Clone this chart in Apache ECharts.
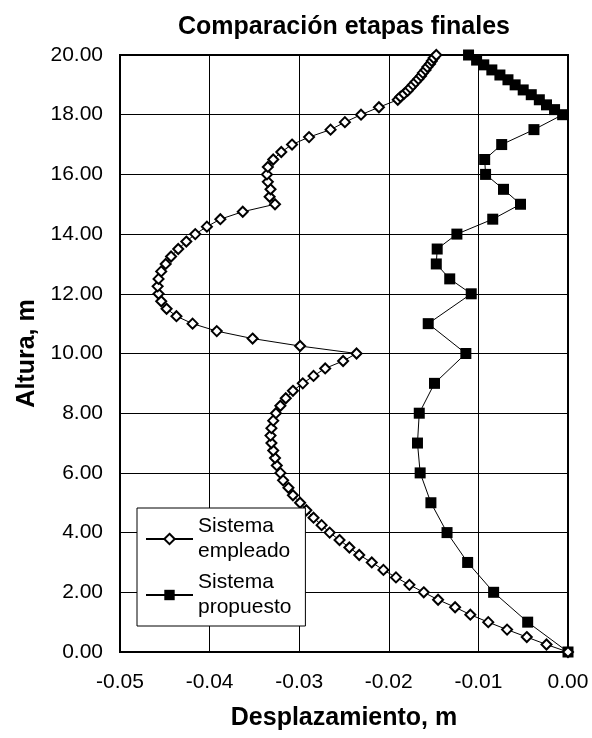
<!DOCTYPE html>
<html>
<head>
<meta charset="utf-8">
<title>Comparación etapas finales</title>
<script src="https://cdn.jsdelivr.net/npm/echarts@6/dist/echarts.min.js"></script>
<style>
  html, body { margin: 0; padding: 0; background: #fff; }
  #chart { width: 592px; height: 738px; }
</style>
</head>
<body>
<div id="chart"></div>
<script>
// Sistema empleado: altura (m) / desplazamiento (m)
var empleadoAltura = [0, 0.25, 0.5, 0.75, 1, 1.25, 1.5, 1.75, 2, 2.25, 2.5, 2.75, 3, 3.25, 3.5, 3.75,
  4, 4.25, 4.5, 4.75, 5, 5.25, 5.5, 5.75, 6, 6.25, 6.5, 6.75, 7, 7.25, 7.5, 7.75,
  8, 8.25, 8.5, 8.75, 9, 9.25, 9.5, 9.75, 10, 10.25, 10.5, 10.75, 11, 11.25, 11.5, 11.75,
  12, 12.25, 12.5, 12.75, 13, 13.25, 13.5, 13.75, 14, 14.25, 14.5, 14.75, 15, 15.25, 15.5, 15.75,
  16, 16.25, 16.5, 16.75, 17, 17.25, 17.5, 17.75, 18, 18.25, 18.5, 18.6, 18.7, 18.8, 18.9,
  19, 19.1, 19.2, 19.3, 19.4, 19.5, 19.6, 19.7, 19.8, 19.9, 20];
var empleadoDespl = [0, -0.0024, -0.0046, -0.0068, -0.0089, -0.0109, -0.0126, -0.0145, -0.0161, -0.0177, -0.0192, -0.0206, -0.0219, -0.0233, -0.0244, -0.0255,
  -0.0266, -0.0275, -0.0284, -0.0292, -0.0299, -0.0307, -0.0312, -0.0318, -0.0321, -0.0325, -0.0327, -0.0329, -0.0331, -0.0332, -0.0331, -0.0329,
  -0.0326, -0.0321, -0.0315, -0.0307, -0.0296, -0.0284, -0.0271, -0.0251, -0.0236, -0.0299, -0.0352, -0.0392, -0.0419, -0.0437, -0.0448, -0.0454,
  -0.0457, -0.0458, -0.0457, -0.0454, -0.0449, -0.0443, -0.0435, -0.0426, -0.0416, -0.0403, -0.0388, -0.0363, -0.0327, -0.0333, -0.0332, -0.0335,
  -0.0336, -0.0335, -0.0329, -0.0320, -0.0308, -0.0289, -0.0265, -0.0249, -0.0231, -0.0211, -0.0190, -0.0187, -0.0183, -0.0179, -0.0176,
  -0.0173, -0.0170, -0.0167, -0.0164, -0.0162, -0.0159, -0.0157, -0.0154, -0.0152, -0.0150, -0.0147];

// Sistema propuesto
var propuestoAltura = [0, 1, 2, 3, 4, 5, 6, 7, 8, 9, 10, 11, 12, 12.5, 13, 13.5, 14, 14.5, 15, 15.5, 16, 16.5, 17, 17.5,
  18, 18.17, 18.33, 18.5, 18.67, 18.83, 19, 19.17, 19.33, 19.5, 19.67, 19.83, 20];
var propuestoDespl = [0, -0.0045, -0.0083, -0.0112, -0.0135, -0.0153, -0.0165, -0.0168, -0.0166, -0.0149, -0.0114, -0.0156, -0.0108, -0.0132, -0.0147, -0.0146, -0.0124, -0.0084, -0.0053, -0.0072, -0.0092, -0.0093, -0.0074, -0.0038,
  -0.0006, -0.0015, -0.0024, -0.0032, -0.0041, -0.0050, -0.0059, -0.0067, -0.0076, -0.0085, -0.0094, -0.0102, -0.0111];

var xTicks = [-0.05, -0.04, -0.03, -0.02, -0.01, 0];
var yTicks = [0, 2, 4, 6, 8, 10, 12, 14, 16, 18, 20];

function pairs(xs, ys) {
  return xs.map(function (x, i) { return [x, ys[i]]; });
}

var font = "'Liberation Sans', Arial, sans-serif";

var chart = echarts.init(document.getElementById("chart"));
var option = {
  animation: false,
  textStyle: { fontFamily: font },
  title: {
    text: "Comparación etapas finales",
    left: 344,
    top: 15,
    padding: 0,
    textAlign: "center",
    textStyle: { fontFamily: font, fontSize: 25, fontWeight: "bold", color: "#000" }
  },
  grid: {
    left: 120,
    right: 24,
    top: 55,
    bottom: 86,
    show: true,
    borderColor: "#000",
    borderWidth: 2,
    backgroundColor: "#fff"
  },
  legend: {
    orient: "vertical",
    left: 137,
    top: 508,
    padding: [6, 14, 6, 8],
    itemGap: 6,
    itemWidth: 47,
    itemHeight: 13,
    backgroundColor: "#fff",
    borderColor: "#000",
    borderWidth: 1,
    borderRadius: 0,
    textStyle: { fontFamily: font, fontSize: 21, lineHeight: 25, color: "#000" },
    data: ["Sistema\nempleado", "Sistema\npropuesto"]
  },
  xAxis: {
    type: "value",
    min: xTicks[0],
    max: xTicks[xTicks.length - 1],
    interval: 0.01,
    name: "Desplazamiento, m",
    nameLocation: "middle",
    nameGap: 54,
    nameTextStyle: { fontFamily: font, fontSize: 25, fontWeight: "bold", color: "#000" },
    axisLine: { show: true, onZero: false, lineStyle: { color: "#000", width: 2 } },
    axisTick: { show: false },
    axisLabel: {
      margin: 20,
      fontSize: 21,
      color: "#000",
      fontFamily: font,
      formatter: function (v) { return v.toFixed(2); }
    },
    splitLine: { show: true, lineStyle: { color: "#000", width: 1 } }
  },
  yAxis: {
    type: "value",
    min: yTicks[0],
    max: yTicks[yTicks.length - 1],
    interval: 2,
    name: "Altura, m",
    nameLocation: "middle",
    nameGap: 75,
    nameTextStyle: { fontFamily: font, fontSize: 25, fontWeight: "bold", color: "#000" },
    axisLine: { show: true, onZero: false, lineStyle: { color: "#000", width: 2 } },
    axisTick: { show: false },
    axisLabel: {
      margin: 17,
      fontSize: 21,
      color: "#000",
      fontFamily: font,
      formatter: function (v) { return v.toFixed(2); }
    },
    splitLine: { show: true, lineStyle: { color: "#000", width: 1 } }
  },
  series: [
    {
      name: "Sistema\nempleado",
      type: "line",
      data: pairs(empleadoDespl, empleadoAltura),
      symbol: "diamond",
      symbolSize: 10,
      showAllSymbol: true,
      lineStyle: { color: "#000", width: 1 },
      itemStyle: { color: "#fff", borderColor: "#000", borderWidth: 2 },
      z: 3
    },
    {
      name: "Sistema\npropuesto",
      type: "line",
      data: pairs(propuestoDespl, propuestoAltura),
      symbol: "rect",
      symbolSize: 11,
      showAllSymbol: true,
      lineStyle: { color: "#000", width: 1 },
      itemStyle: { color: "#000", borderColor: "#000", borderWidth: 0 },
      z: 2
    }
  ]
};
chart.setOption(option);
</script>
</body>
</html>
